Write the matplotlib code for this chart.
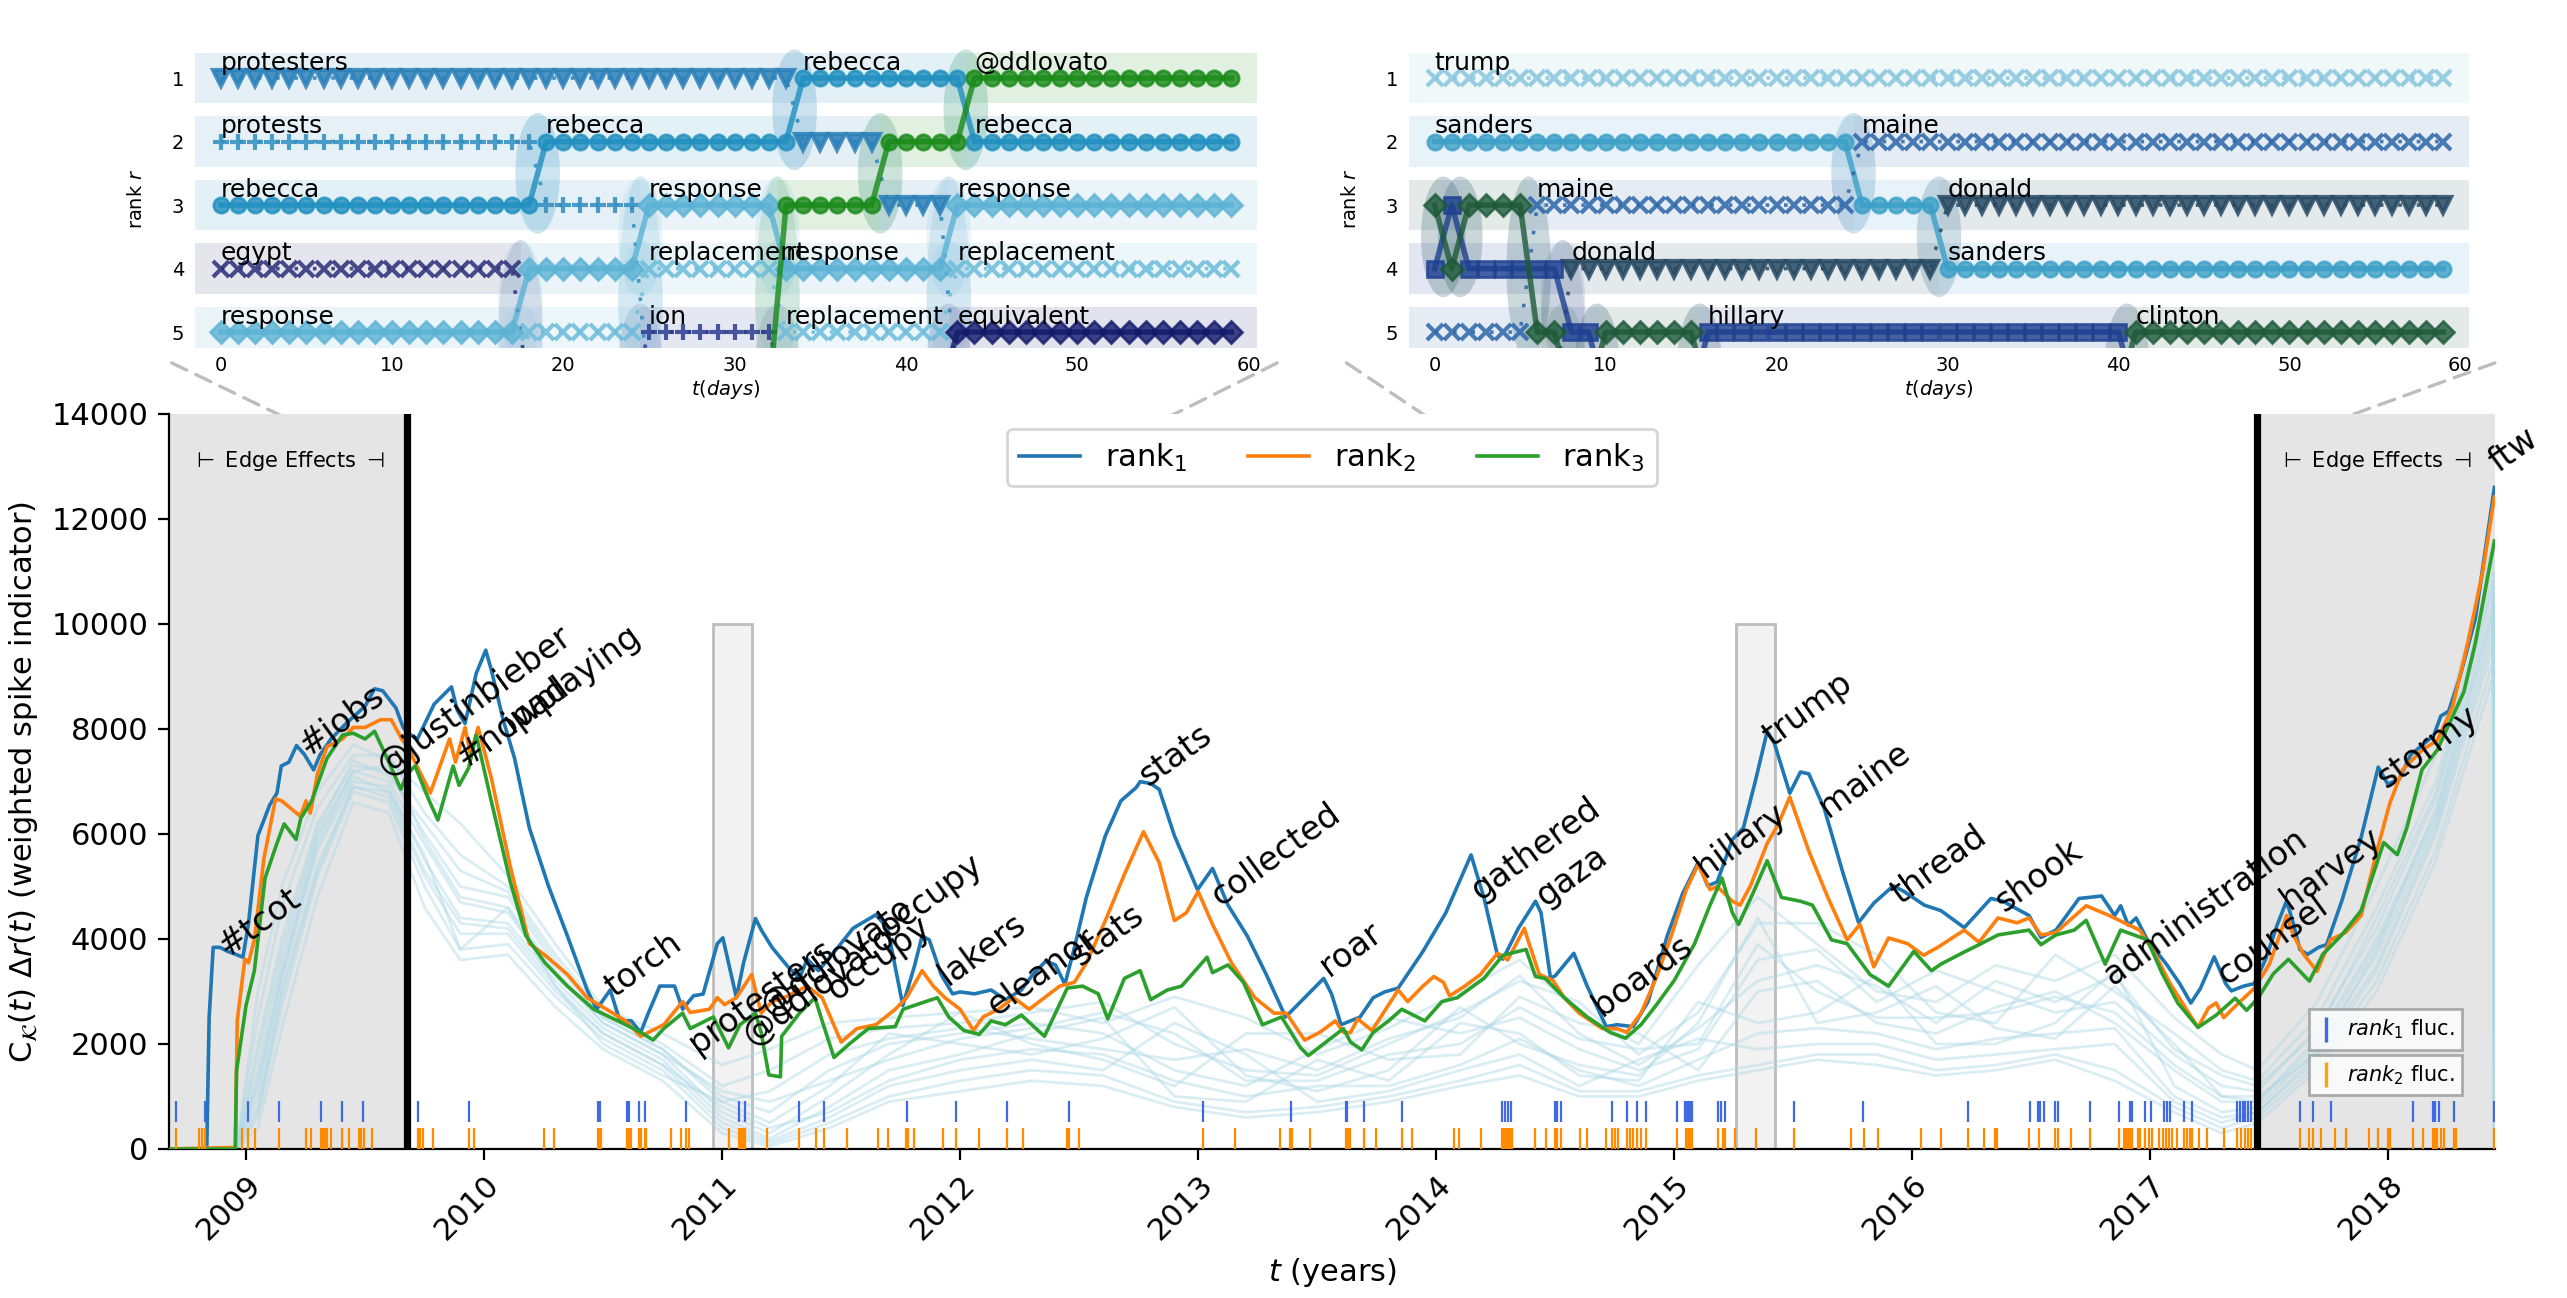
import matplotlib
matplotlib.use('Agg')
import matplotlib.pyplot as plt
import numpy as np
from matplotlib.patches import Rectangle, Ellipse, ConnectionPatch
from matplotlib.lines import Line2D

plt.rcParams['font.family'] = ['DejaVu Sans']

# ---------------- main panel data (decimal year, weighted spike indicator)
rank1 = [(2008.676, 0), (2008.835, 0), (2008.845, 2500), (2008.862, 3840), (2008.89, 3840), (2008.923, 3765),
         (2008.987, 3654), (2009.01, 4279), (2009.05, 5971), (2009.10, 6559), (2009.13, 6779), (2009.148, 7294),
         (2009.18, 7368), (2009.212, 7684), (2009.245, 7515), (2009.284, 7221), (2009.31, 7500), (2009.357, 7809),
         (2009.42, 8103), (2009.50, 8434), (2009.54, 8765), (2009.574, 8728), (2009.63, 8397), (2009.66, 8029),
         (2009.68, 7919), (2009.72, 7809), (2009.79, 8471), (2009.863, 8801), (2009.887, 8360), (2009.92, 8103),
         (2009.967, 9059), (2010.007, 9500), (2010.03, 9132), (2010.08, 8176), (2010.128, 7441), (2010.19, 6118),
         (2010.27, 5015), (2010.35, 4059), (2010.433, 3029), (2010.473, 2662), (2010.53, 3029), (2010.57, 2441),
         (2010.618, 2441), (2010.658, 2221), (2010.69, 2588), (2010.738, 3103), (2010.80, 3103), (2010.834, 2662),
         (2010.88, 2919), (2010.92, 2950), (2010.98, 3912), (2011.003, 4022), (2011.06, 2882), (2011.09, 3544),
         (2011.14, 4390), (2011.165, 4167), (2011.21, 3837), (2011.277, 3469), (2011.325, 3249), (2011.357, 3616),
         (2011.405, 3396), (2011.486, 3837), (2011.55, 4204), (2011.646, 4461), (2011.695, 4204), (2011.759, 2734),
         (2011.807, 3469), (2011.84, 4057), (2011.87, 3984), (2011.92, 3322), (2011.968, 2955), (2012.0, 2991),
         (2012.06, 2955), (2012.13, 3028), (2012.19, 2844), (2012.257, 3028), (2012.305, 3322), (2012.36, 3580),
         (2012.40, 3506), (2012.44, 3138), (2012.48, 3837), (2012.53, 4792), (2012.61, 5968), (2012.675, 6630),
         (2012.74, 6887), (2012.756, 6997), (2012.80, 6960), (2012.836, 6850), (2012.90, 5968), (2012.997, 4939),
         (2013.06, 5343), (2013.125, 4645), (2013.206, 4057), (2013.286, 3322), (2013.367, 2514), (2013.447, 2881),
         (2013.527, 3249), (2013.56, 2955), (2013.60, 2367), (2013.64, 2440), (2013.68, 2514), (2013.735, 2881),
         (2013.783, 2991), (2013.84, 3065), (2013.944, 3763), (2014.04, 4498), (2014.146, 5601), (2014.2, 4792),
         (2014.257, 3690), (2014.28, 3616), (2014.345, 4204), (2014.417, 4719), (2014.44, 4498), (2014.48, 3249),
         (2014.50, 3300), (2014.578, 3727), (2014.634, 3102), (2014.714, 2330), (2014.76, 2367), (2014.827, 2330),
         (2014.89, 2808), (2014.97, 4057), (2015.035, 4866), (2015.10, 5454), (2015.14, 5013), (2015.18, 5086),
         (2015.244, 5895), (2015.29, 6115), (2015.34, 6997), (2015.39, 7953), (2015.42, 7732), (2015.485, 6777),
         (2015.53, 7181), (2015.565, 7144), (2015.63, 6483), (2015.71, 5233), (2015.774, 4314), (2015.838, 4682),
         (2015.92, 5013), (2015.966, 4902), (2016.05, 4645), (2016.12, 4540), (2016.218, 4216), (2016.33, 4771),
         (2016.378, 4725), (2016.49, 4447), (2016.54, 4030), (2016.603, 4169), (2016.7, 4771), (2016.795, 4818),
         (2016.85, 4447), (2016.875, 4632), (2016.907, 4262), (2016.94, 4401), (2016.987, 3984), (2017.067, 3521),
         (2017.123, 3150), (2017.17, 2780), (2017.21, 3057), (2017.268, 3660), (2017.316, 3150), (2017.34, 3011),
         (2017.39, 3100), (2017.436, 3150), (2017.484, 3613), (2017.532, 4262), (2017.572, 4725), (2017.60, 4300),
         (2017.628, 3799), (2017.66, 3706), (2017.708, 3845), (2017.74, 3891), (2017.804, 4725), (2017.885, 5930),
         (2017.957, 7273), (2017.997, 6949), (2018.045, 7041), (2018.093, 7505), (2018.141, 7690), (2018.19, 7875),
         (2018.22, 8246), (2018.253, 8339), (2018.30, 8987), (2018.365, 10099), (2018.445, 12600)]

rank2 = [(2008.676, 0), (2008.955, 30), (2008.963, 2441), (2008.995, 3618), (2009.01, 3544), (2009.035, 3985),
         (2009.075, 5529), (2009.124, 6669), (2009.15, 6630), (2009.228, 6338), (2009.252, 6632), (2009.27, 6400),
         (2009.30, 7147), (2009.34, 7662), (2009.405, 7809), (2009.45, 8029), (2009.50, 8029), (2009.565, 8176),
         (2009.61, 8176), (2009.654, 7809), (2009.678, 7662), (2009.774, 6779), (2009.855, 7809), (2009.88, 7368),
         (2009.92, 8029), (2009.943, 7515), (2009.975, 8029), (2010.03, 7074), (2010.11, 5382), (2010.19, 3912),
         (2010.256, 3691), (2010.35, 3324), (2010.433, 2882), (2010.594, 2441), (2010.658, 2147), (2010.755, 2368),
         (2010.834, 2809), (2010.866, 2600), (2010.947, 2662), (2010.98, 2882), (2011.01, 2750), (2011.06, 2882),
         (2011.124, 3324), (2011.164, 2587), (2011.21, 2811), (2011.26, 2881), (2011.357, 3102), (2011.42, 2881),
         (2011.50, 2036), (2011.566, 2293), (2011.646, 2367), (2011.727, 2661), (2011.775, 2881), (2011.84, 3396),
         (2011.887, 3102), (2011.936, 2881), (2012.0, 2661), (2012.056, 2256), (2012.096, 2514), (2012.16, 2661),
         (2012.225, 2881), (2012.29, 2661), (2012.354, 2881), (2012.418, 3102), (2012.48, 3175), (2012.53, 3543),
         (2012.61, 4351), (2012.69, 5233), (2012.77, 6042), (2012.836, 5454), (2012.90, 4351), (2012.95, 4498),
         (2013.0, 4902), (2013.06, 4278), (2013.14, 3543), (2013.238, 2881), (2013.318, 2587), (2013.37, 2587),
         (2013.447, 2073), (2013.51, 2220), (2013.576, 2440), (2013.61, 2220), (2013.64, 2220), (2013.67, 2477),
         (2013.73, 2256), (2013.84, 3028), (2013.88, 2808), (2013.944, 3102), (2013.99, 3285), (2014.03, 3175),
         (2014.056, 2918), (2014.12, 3102), (2014.185, 3322), (2014.257, 3727), (2014.30, 3600), (2014.37, 4204),
         (2014.38, 4050), (2014.433, 3322), (2014.49, 3212), (2014.538, 2881), (2014.60, 2587), (2014.698, 2293),
         (2014.76, 2293), (2014.80, 2220), (2014.86, 2587), (2014.923, 3249), (2014.987, 4057), (2015.05, 4939),
         (2015.10, 5417), (2015.15, 4939), (2015.18, 5000), (2015.244, 4719), (2015.276, 4645), (2015.32, 5013),
         (2015.39, 5821), (2015.437, 6189), (2015.485, 6704), (2015.565, 5674), (2015.645, 4792), (2015.726, 3984),
         (2015.78, 4278), (2015.838, 3469), (2015.9, 4020), (2015.98, 3910), (2016.047, 3690), (2016.11, 3850),
         (2016.218, 4169), (2016.28, 3938), (2016.36, 4401), (2016.44, 4308), (2016.49, 4401), (2016.54, 4077),
         (2016.603, 4123), (2016.73, 4632), (2016.827, 4447), (2016.89, 4308), (2016.955, 4169), (2017.02, 3706),
         (2017.083, 3150), (2017.147, 2687), (2017.2, 2316), (2017.244, 2687), (2017.276, 2780), (2017.308, 2502),
         (2017.37, 2780), (2017.436, 3057), (2017.5, 3521), (2017.572, 4447), (2017.6, 4077), (2017.644, 3706),
         (2017.7, 3382), (2017.756, 3984), (2017.82, 4123), (2017.885, 4447), (2017.95, 5652), (2018.005, 6578),
         (2018.06, 7227), (2018.141, 7597), (2018.205, 7782), (2018.27, 8431), (2018.333, 9636), (2018.397, 11025),
         (2018.445, 12415)]

rank3 = [(2008.676, 0), (2008.955, 0), (2008.96, 1485), (2009.0, 2735), (2009.035, 3397), (2009.08, 5162),
         (2009.13, 5824), (2009.16, 6191), (2009.21, 5897), (2009.23, 6300), (2009.276, 6632), (2009.34, 7441),
         (2009.405, 7882), (2009.45, 7919), (2009.5, 7809), (2009.54, 7956), (2009.6, 7368), (2009.65, 6853),
         (2009.678, 7147), (2009.71, 7294), (2009.766, 6669), (2009.806, 6265), (2009.87, 7294), (2009.895, 6926),
         (2009.935, 7257), (2009.967, 7882), (2010.03, 6632), (2010.11, 5088), (2010.176, 4059), (2010.256, 3544),
         (2010.35, 3103), (2010.46, 2662), (2010.594, 2368), (2010.658, 2221), (2010.71, 2074), (2010.755, 2294),
         (2010.834, 2588), (2010.866, 2294), (2010.963, 2515), (2011.027, 1926), (2011.075, 2368), (2011.14, 2588),
         (2011.164, 2220), (2011.196, 1411), (2011.245, 1375), (2011.25, 2146), (2011.325, 2587), (2011.39, 2881),
         (2011.42, 2440), (2011.47, 1742), (2011.534, 1999), (2011.614, 2293), (2011.727, 2330), (2011.76, 2661),
         (2011.807, 2734), (2011.904, 2881), (2011.952, 2514), (2012.016, 2256), (2012.08, 2183), (2012.13, 2440),
         (2012.19, 2367), (2012.257, 2550), (2012.354, 2146), (2012.45, 3065), (2012.514, 3102), (2012.58, 2955),
         (2012.62, 2477), (2012.69, 3249), (2012.756, 3396), (2012.80, 2844), (2012.87, 3028), (2012.93, 3102),
         (2013.037, 3653), (2013.06, 3359), (2013.125, 3506), (2013.19, 3175), (2013.27, 2367), (2013.35, 2514),
         (2013.43, 1926), (2013.463, 1779), (2013.61, 2293), (2013.64, 2036), (2013.687, 1889), (2013.735, 2220),
         (2013.8, 2440), (2013.855, 2661), (2013.952, 2440), (2014.024, 2808), (2014.088, 2881), (2014.2, 3249),
         (2014.28, 3690), (2014.377, 3800), (2014.417, 3285), (2014.457, 3249), (2014.538, 2881), (2014.634, 2514),
         (2014.73, 2220), (2014.795, 2110), (2014.86, 2367), (2014.923, 2734), (2015.0, 3212), (2015.085, 3910),
         (2015.15, 4645), (2015.2, 5160), (2015.244, 4498), (2015.27, 4278), (2015.33, 4866), (2015.39, 5490),
         (2015.45, 4792), (2015.53, 4719), (2015.58, 4645), (2015.66, 3984), (2015.726, 3910), (2015.822, 3322),
         (2015.9, 3102), (2016.006, 3763), (2016.08, 3396), (2016.12, 3521), (2016.218, 3752), (2016.28, 3891),
         (2016.36, 4077), (2016.49, 4169), (2016.54, 3891), (2016.603, 4077), (2016.68, 4169), (2016.73, 4355),
         (2016.81, 3521), (2016.875, 4169), (2016.987, 3984), (2017.05, 3336), (2017.115, 2780), (2017.2, 2316),
         (2017.276, 2548), (2017.356, 2872), (2017.404, 2641), (2017.452, 2872), (2017.516, 3336), (2017.58, 3613),
         (2017.668, 3197), (2017.724, 3706), (2017.804, 4077), (2017.885, 4540), (2017.98, 5837), (2018.037, 5605),
         (2018.077, 6115), (2018.141, 7227), (2018.205, 7597), (2018.27, 8246), (2018.317, 8709), (2018.365, 9636),
         (2018.445, 11581)]

# lower ranks (faint background curves)
faint_t = [2008.676, 2008.96, 2009.05, 2009.15, 2009.3, 2009.45, 2009.6, 2009.75, 2009.9, 2010.1,
           2010.3, 2010.5, 2010.75, 2011.0, 2011.2, 2011.45, 2011.7, 2012.0, 2012.3, 2012.6,
           2012.9, 2013.2, 2013.5, 2013.8, 2014.1, 2014.35, 2014.6, 2014.85, 2015.1, 2015.35,
           2015.6, 2015.85, 2016.1, 2016.35, 2016.6, 2016.85, 2017.1, 2017.3, 2017.45, 2017.7,
           2017.95, 2018.2, 2018.44, 2018.445]
faint_1 = [0, 0, 3000, 5000, 6800, 7700, 7400, 6800, 6200, 5200, 3900, 2700, 2200, 1600, 1900, 2400, 2500, 2600,
           2700, 2400, 2900, 2500, 1800, 2300, 3000, 3600, 2600, 2000, 3500, 4800, 3900, 3000, 2800, 3500, 3200,
           3700, 2500, 1800, 1500, 2800, 5000, 7500, 11500, 0]
faint_2 = [0, 0, 2500, 4600, 6500, 7500, 7500, 6400, 5600, 5000, 3700, 2600, 2000, 1200, 1500, 2100, 2300, 2400,
           2600, 2800, 2000, 1500, 1400, 2000, 2600, 3200, 2800, 1800, 2600, 4300, 4300, 3700, 2600, 2400, 3700,
           3000, 2200, 1500, 1300, 2500, 4600, 7000, 11000, 0]
faint_3 = [0, 0, 2000, 4000, 6200, 7300, 7200, 6000, 5000, 4800, 3500, 2500, 1900, 1000, 700, 1500, 2000, 2200,
           2400, 2200, 1500, 1200, 1900, 2500, 2200, 2500, 1900, 1500, 1900, 3600, 3800, 2800, 3400, 3000, 2600,
           2800, 1800, 1200, 1100, 2300, 4200, 6700, 10700, 0]
faint_4 = [0, 0, 1500, 3600, 6000, 7200, 7000, 5800, 4700, 4500, 3300, 2400, 1800, 700, 300, 1000, 1800, 2600,
           2000, 1700, 1200, 2200, 2200, 1700, 1800, 2900, 2400, 2200, 1500, 3000, 3200, 2400, 2200, 2700, 3000,
           2400, 1500, 900, 900, 2100, 4000, 6400, 10300, 0]
faint_5 = [0, 0, 1000, 3200, 5700, 7000, 6900, 5500, 4400, 4300, 3200, 2300, 1700, 600, 200, 800, 1500, 1800,
           2200, 2500, 1000, 900, 1700, 1300, 2400, 2200, 1400, 1300, 2800, 2400, 2600, 3300, 2000, 2000, 2400,
           3400, 1200, 700, 800, 1900, 3700, 6200, 10000, 0]
faint_6 = [0, 0, 800, 3000, 5400, 6900, 6700, 5200, 4100, 4100, 3000, 2200, 1600, 500, 150, 600, 1200, 1500,
           1700, 1500, 2400, 1800, 900, 1100, 1500, 1800, 1200, 1700, 2100, 1900, 2000, 2000, 1700, 1800, 1900,
           2000, 900, 500, 700, 1700, 3400, 6000, 9600, 0]
faint_7 = [0, 0, 600, 2700, 5200, 6800, 6600, 5000, 3800, 3900, 2900, 2100, 1500, 400, 100, 500, 1000, 1300,
           1500, 1400, 900, 700, 800, 1000, 1300, 1600, 1100, 1100, 1400, 1600, 1800, 1800, 1500, 1600, 1800,
           1500, 800, 400, 600, 1600, 3200, 5700, 9300, 0]
faint_8 = [0, 0, 1200, 3400, 5800, 7100, 6800, 5600, 3800, 4600, 3100, 2000, 1400, 900, 500, 1200, 2200, 2000,
           1800, 2100, 2700, 1400, 1100, 1500, 2700, 2000, 1600, 1400, 2400, 4400, 2400, 2600, 3100, 2300, 2100,
           3100, 2000, 1000, 1000, 1800, 3800, 6500, 10500, 0]
faint_9 = [0, 0, 400, 2300, 4800, 6600, 6400, 4600, 3600, 3700, 2700, 1900, 1300, 300, 50, 400, 900, 1100,
           1300, 1200, 800, 600, 700, 900, 1200, 1400, 1000, 1000, 1300, 1500, 1700, 1600, 1400, 1500, 1700,
           1300, 700, 300, 500, 1500, 3000, 5500, 9000, 0]
faint_10 = [0, 0, 1800, 3800, 6100, 7400, 7100, 6200, 5300, 4900, 3600, 2500, 1900, 900, 1100, 1800, 2100, 2300,
            2100, 1900, 1700, 1900, 1500, 2100, 2500, 3300, 2200, 1600, 2300, 3200, 3500, 3100, 2400, 3200, 2800,
            3300, 1900, 1400, 1200, 2200, 4400, 6800, 10800, 0]
faint_11 = [0, 0, 700, 2900, 5300, 6900, 6800, 5300, 4300, 4200, 3100, 2200, 1600, 800, 400, 700, 1300, 1700,
            1900, 1800, 1300, 1000, 1200, 1200, 1600, 2100, 1500, 1200, 1700, 2200, 2300, 2200, 1900, 2100, 2200,
            2300, 1000, 600, 700, 1800, 3500, 6100, 9800, 0]
faint_12 = [0, 0, 1300, 3300, 5900, 7200, 7300, 5900, 4800, 4600, 3400, 2400, 1800, 1100, 900, 1300, 1700, 2100,
            2300, 2600, 2200, 1300, 1300, 1800, 2000, 2700, 2100, 1900, 2000, 3900, 3000, 2500, 2500, 2600, 2900,
            2600, 1600, 1000, 900, 2000, 3900, 6300, 10200, 0]

# dates of rank fluctuations (rug)
fluc1 = [2008.706, 2008.827, 2009.008, 2009.14, 2009.316, 2009.402, 2009.493, 2009.721, 2009.935, 2010.478,
         2010.486, 2010.60, 2010.61, 2010.65, 2010.677, 2010.85, 2011.07, 2011.095, 2011.322, 2011.426, 2011.775,
         2011.984, 2012.196, 2012.458, 2013.021, 2013.391, 2013.62, 2013.627, 2013.695, 2013.856, 2014.278,
         2014.289, 2014.30, 2014.313, 2014.498, 2014.509, 2014.522, 2014.738, 2014.803, 2014.843, 2014.883,
         2015.011, 2015.043, 2015.051, 2015.059, 2015.067, 2015.075, 2015.183, 2015.196, 2015.215, 2015.504,
         2015.793, 2016.234, 2016.494, 2016.526, 2016.538, 2016.551, 2016.60, 2016.611, 2016.747, 2016.867,
         2016.915, 2016.923, 2016.979, 2017.003, 2017.059, 2017.071, 2017.083, 2017.143, 2017.173, 2017.364,
         2017.375, 2017.388, 2017.399, 2017.412, 2017.423, 2017.628, 2017.684, 2017.76, 2018.104, 2018.186,
         2018.197, 2018.213, 2018.274, 2018.445]
fluc2 = [2008.706, 2008.802, 2008.814, 2008.827, 2008.984, 2009.008, 2009.039, 2009.14, 2009.252, 2009.273,
         2009.316, 2009.324, 2009.332, 2009.341, 2009.357, 2009.402, 2009.434, 2009.474, 2009.485, 2009.496,
         2009.53, 2009.721, 2009.731, 2009.742, 2009.787, 2009.935, 2009.959, 2010.251, 2010.292, 2010.478,
         2010.486, 2010.492, 2010.60, 2010.61, 2010.618, 2010.65, 2010.661, 2010.674, 2010.682, 2010.786,
         2010.826, 2010.85, 2010.859, 2011.03, 2011.07, 2011.08, 2011.088, 2011.096, 2011.188, 2011.322,
         2011.394, 2011.426, 2011.526, 2011.654, 2011.695, 2011.772, 2011.78, 2011.804, 2011.928, 2011.984,
         2012.08, 2012.196, 2012.265, 2012.45, 2012.458, 2012.498, 2013.021, 2013.154, 2013.342, 2013.387,
         2013.394, 2013.468, 2013.62, 2013.629, 2013.637, 2013.695, 2013.748, 2013.856, 2013.896, 2014.075,
         2014.096, 2014.188, 2014.278, 2014.286, 2014.294, 2014.302, 2014.31, 2014.318, 2014.413, 2014.461,
         2014.498, 2014.509, 2014.522, 2014.602, 2014.634, 2014.711, 2014.738, 2014.75, 2014.762, 2014.803,
         2014.814, 2014.827, 2014.843, 2014.859, 2014.883, 2015.011, 2015.048, 2015.056, 2015.064, 2015.075,
         2015.183, 2015.204, 2015.215, 2015.257, 2015.343, 2015.504, 2015.742, 2015.797, 2015.856, 2016.035,
         2016.12, 2016.234, 2016.303, 2016.346, 2016.357, 2016.49, 2016.53, 2016.599, 2016.611, 2016.667,
         2016.747, 2016.867, 2016.891, 2016.899, 2016.907, 2016.915, 2016.923, 2016.947, 2016.958, 2016.979,
         2016.995, 2017.006, 2017.035, 2017.051, 2017.067, 2017.08, 2017.091, 2017.112, 2017.143, 2017.155,
         2017.167, 2017.176, 2017.204, 2017.236, 2017.308, 2017.364, 2017.38, 2017.396, 2017.412, 2017.423,
         2017.628, 2017.668, 2017.684, 2017.716, 2017.776, 2017.821, 2017.917, 2017.957, 2017.997, 2018.005,
         2018.104, 2018.144, 2018.186, 2018.197, 2018.205, 2018.221, 2018.234, 2018.277, 2018.285, 2018.445]

# rank-1 words annotated at peaks
peak_words = ['#tcot', '#jobs', '@justinbieber', '#nowplaying', 'ipad', 'torch', 'protesters', '@ddlovato',
              '@ddlovato', 'occupy', 'occupy', 'lakers', 'eleanor', 'stats', 'stats', 'collected', 'roar',
              'gathered', 'gaza', 'boards', 'hillary', 'trump', 'maine', 'thread', 'shook', 'administration',
              'counsel', 'harvey', 'stormy', 'ftw']
peak_t = [2008.923, 2009.26, 2009.59, 2009.92, 2010.12, 2010.545, 2010.9, 2011.126, 2011.204, 2011.477,
          2011.695, 2011.95, 2012.153, 2012.506, 2012.788, 2013.093, 2013.55, 2014.185, 2014.457, 2014.698,
          2015.13, 2015.41, 2015.645, 2015.95, 2016.386, 2016.843, 2017.316, 2017.588, 2017.989, 2018.46]
peak_v = [3653, 7475, 7107, 7254, 7916, 2881, 1800, 1962, 2514, 2808, 3984, 3102, 2514, 3469, 6887, 4608, 3285,
          4719, 4608, 2514, 5160, 7659, 6300, 4645, 4494, 3104, 3104, 4540, 6856, 12878]

x_min, x_max = 2008.676, 2018.447
edge_left, edge_right = 2009.676, 2017.446
win_left_start, win_right_start = 2010.963, 2015.26
win_days = 60

# ---------------- inset data: word, colour, marker, line style, (first day, last day, rank)
words_a = ['protesters', 'protests', 'rebecca', 'egypt', 'response', 'replacement', 'ion', '@ddlovato', 'equivalent']
colors_a = ['#2a80b9', '#2f8dc0', '#1f8fbf', '#2a2e78', '#5bb2d5', '#6cbcd9', '#2a3c8e', '#188a18', '#131a6b']
markers_a = ['v', '+', 'o', 'x', 'D', 'x', '+', 'o', 'D']
dotted_a = [True, True, False, True, False, True, True, False, False]
segs_a = [[(0, 33, 1), (34, 38, 2), (39, 42, 3)],
          [(0, 18, 2), (19, 24, 3)],
          [(0, 18, 3), (19, 33, 2), (34, 43, 1), (44, 59, 2)],
          [(0, 17, 4)],
          [(0, 17, 5), (18, 24, 4), (25, 32, 3), (33, 42, 4), (43, 59, 3)],
          [(18, 24, 5), (25, 32, 4), (33, 42, 5), (43, 59, 4)],
          [(25, 32, 5)],
          [(33, 38, 3), (39, 43, 2), (44, 59, 1)],
          [(43, 59, 5)]]

words_b = ['trump', 'sanders', 'maine', 'donald', 'hillary', 'clinton']
colors_b = ['#86c6dd', '#3b9fc7', '#2b65a8', '#274a63', '#1d3f8f', '#1e5a3a']
markers_b = ['x', 'o', 'x', 'v', 's', 'D']
dotted_b = [True, False, True, True, False, False]
segs_b = [[(0, 59, 1)],
          [(0, 24, 2), (25, 29, 3), (30, 59, 4)],
          [(0, 5, 5), (6, 24, 3), (25, 59, 2)],
          [(8, 29, 4), (30, 59, 3)],
          [(0, 0, 4), (1, 1, 3), (2, 7, 4), (8, 9, 5), (16, 40, 5)],
          [(0, 0, 3), (1, 1, 4), (2, 5, 3), (6, 7, 5), (10, 15, 5), (41, 59, 5)]]


def draw_inset(ax, words, colors, markers, dotted, segs):
    days = np.arange(win_days)
    for w, c, m, dot, sg in zip(words, colors, markers, dotted, segs):
        r = np.full(win_days, 6.0)
        for a, b, rk in sg:
            r[a:b + 1] = rk
        for a, b, rk in sg:
            x0 = -1.5 if a == 0 else a - 0.5
            x1 = 60.5 if b == win_days - 1 else b + 0.5
            ax.add_patch(Rectangle((x0, rk - 0.4), x1 - x0, 0.8, facecolor=c, alpha=0.12, lw=0, zorder=0))
            if b - a + 1 >= 8:
                ax.text(a, rk - 0.13, w, fontsize=9, ha='left', va='baseline', zorder=6)
        for d in range(1, win_days):
            if r[d] != r[d - 1]:
                ax.add_patch(Ellipse((d - 0.5, (r[d] + r[d - 1]) / 2), 2.6, abs(r[d] - r[d - 1]) + 0.9,
                                     facecolor=c, alpha=0.12, lw=0, zorder=1))
        if dot:
            ax.plot(days, r, color=c, marker=m, ls=(0, (1, 4.1)), lw=1.3, ms=5.5, mew=1.5, alpha=0.85, zorder=3)
        else:
            ax.plot(days, r, color=c, marker=m, ls='-', lw=2.0, ms=5.5, alpha=0.8, zorder=3)
    ax.set_xlim(-1.5, 60.5)
    ax.set_ylim(5.25, 0.55)
    ax.set_yticks([1, 2, 3, 4, 5])
    ax.set_xticks([0, 10, 20, 30, 40, 50, 60])
    ax.tick_params(axis='x', length=0, pad=3, labelsize=7)
    ax.tick_params(axis='y', length=0, pad=4, labelsize=7)
    for s in ax.spines.values():
        s.set_visible(False)
    ax.set_xlabel(r'$t(days)$', fontsize=7, labelpad=1)
    ax.set_ylabel(r'rank $r$', fontsize=7, labelpad=9)


fig = plt.figure(figsize=(12.835, 6.49), dpi=200)
ax = fig.add_axes([0.0658, 0.1148, 0.9061, 0.5663])

ax.axvspan(x_min, edge_left, color='#e5e5e5', lw=0, zorder=0)
ax.axvspan(edge_right, x_max, color='#e5e5e5', lw=0, zorder=0)
for start in (win_left_start, win_right_start):
    ax.add_patch(Rectangle((start, 0), win_days / 365.25, 10000, facecolor='#f2f2f2',
                           edgecolor='#bdbdbd', lw=1, zorder=1))

for f in (faint_1, faint_2, faint_3, faint_4, faint_5, faint_6, faint_7, faint_8,
          faint_9, faint_10, faint_11, faint_12):
    ax.plot(faint_t, f, color='lightblue', alpha=0.45, lw=1, zorder=2)

main_handles = []
for series, col, lab in ((rank1, '#1f77b4', r'rank$_1$'), (rank2, '#ff7f0e', r'rank$_2$'),
                         (rank3, '#2ca02c', r'rank$_3$')):
    t, v = np.array(series).T
    ln, = ax.plot(t, v, color=col, lw=1.3, label=lab, zorder=3)
    main_handles.append(ln)

ax.eventplot([fluc1], lineoffsets=710, linelengths=400, colors='royalblue', linewidths=0.8, zorder=3)
ax.eventplot([fluc2], lineoffsets=202, linelengths=404, colors='darkorange', linewidths=0.8, zorder=3)

ax.axvline(edge_left, color='black', lw=2.6, zorder=4)
ax.axvline(edge_right, color='black', lw=2.6, zorder=4)
ax.text((x_min + edge_left) / 2, 13100, r'$\vdash$ Edge Effects $\dashv$', ha='center', va='center', fontsize=7.5)
ax.text((edge_right + x_max) / 2, 13100, r'$\vdash$ Edge Effects $\dashv$', ha='center', va='center', fontsize=7.5)

for w, t, v in zip(peak_words, peak_t, peak_v):
    ax.text(t, v, w, rotation=36, rotation_mode='anchor', ha='left', va='baseline', fontsize=12, zorder=5)

ax.set_xlim(x_min, x_max)
ax.set_ylim(0, 14000)
ax.set_yticks(range(0, 14001, 2000))
years = list(range(2009, 2019))
ax.set_xticks(years)
ax.set_xticklabels([str(y) for y in years], rotation=45, ha='right', va='top', rotation_mode='anchor')
ax.tick_params(labelsize=11, length=4)
ax.spines['top'].set_visible(False)
ax.spines['right'].set_visible(False)
ax.set_xlabel(r'$t$ (years)', fontsize=11)
ax.set_ylabel(r'$\mathrm{C}_{\mathcal{K}}(t)\ \Delta r(t)$ (weighted spike indicator)', fontsize=11)

h1 = Line2D([], [], color='royalblue', marker='|', ls='None', ms=9, mew=1.2)
h2 = Line2D([], [], color='orange', marker='|', ls='None', ms=9, mew=1.2)
leg1 = ax.legend([h1], [r'$rank_1$ fluc.'], loc='lower right', bbox_to_anchor=(0.986, 0.135), borderaxespad=0,
                 fancybox=False, edgecolor='0.6', fontsize=7.5, handlelength=0.8, handletextpad=0.6)
ax.add_artist(leg1)
leg2 = ax.legend([h2], [r'$rank_2$ fluc.'], loc='lower right', bbox_to_anchor=(0.986, 0.0735), borderaxespad=0,
                 fancybox=False, edgecolor='0.6', fontsize=7.5, handlelength=0.8, handletextpad=0.6)
ax.add_artist(leg2)
ax.legend(main_handles, [l.get_label() for l in main_handles], loc='upper center', ncol=3, fontsize=11)

ins_a = fig.add_axes([0.0760, 0.7319, 0.4137, 0.2300])
draw_inset(ins_a, words_a, colors_a, markers_a, dotted_a, segs_a)
ins_b = fig.add_axes([0.5489, 0.7319, 0.4129, 0.2300])
draw_inset(ins_b, words_b, colors_b, markers_b, dotted_b, segs_b)

# dashed guides from the insets to the highlighted windows
for ins, start, xa0, xa1 in ((ins_a, win_left_start, -0.022, 1.019), (ins_b, win_right_start, -0.059, 1.0245)):
    for xa, xd in ((xa0, start), (xa1, start + win_days / 365.25)):
        con = ConnectionPatch(xyA=(xa, -0.05), coordsA=ins.transAxes, xyB=(xd, 10000), coordsB=ax.transData,
                              color='#bdbdbd', ls=(0, (5, 3)), lw=1.2, zorder=0)
        fig.add_artist(con)

fig.savefig('out.png', dpi=200)
